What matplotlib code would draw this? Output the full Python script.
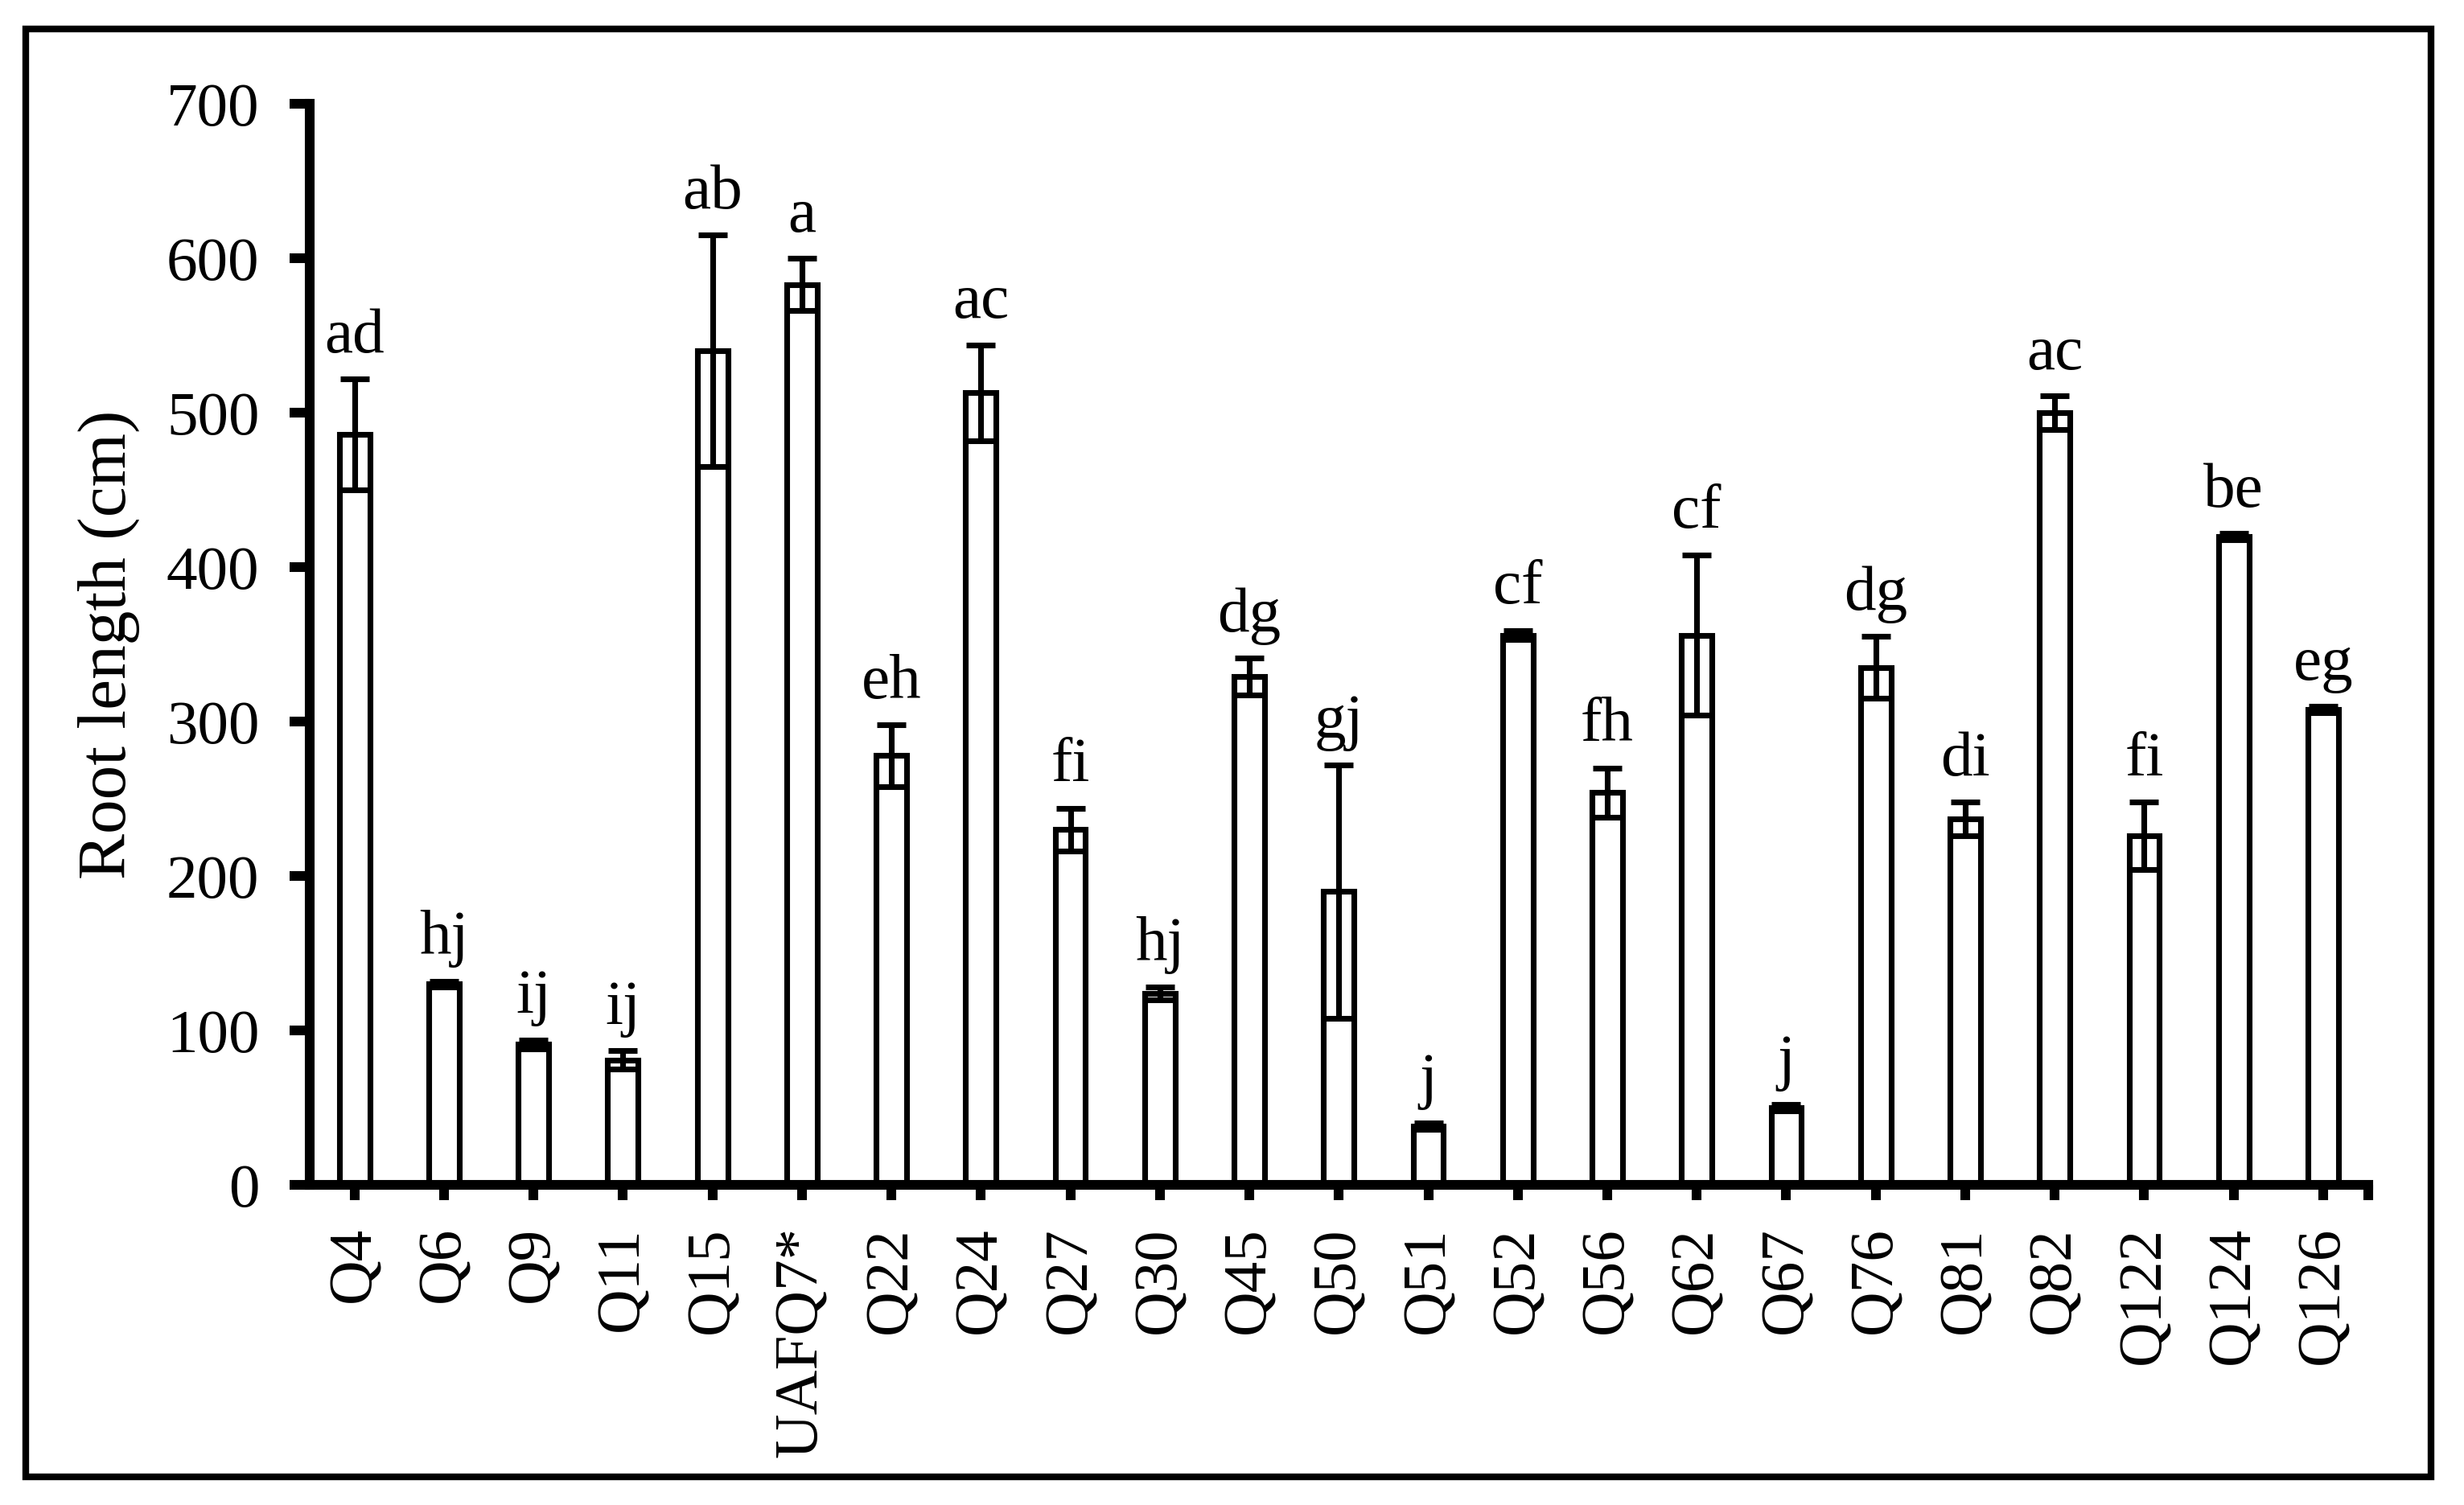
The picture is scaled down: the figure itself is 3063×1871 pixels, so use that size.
import matplotlib.pyplot as plt
from matplotlib.patches import Rectangle
import numpy as np

# Datos
aislados = ['Q4', 'Q6', 'Q9', 'Q11', 'Q15', 'UAFQ7*', 'Q22', 'Q24', 'Q27', 'Q30',
            'Q45', 'Q50', 'Q51', 'Q52', 'Q56', 'Q62', 'Q67', 'Q76', 'Q81', 'Q82',
            'Q122', 'Q124', 'Q126']
longitud = [486, 130, 91, 81, 540, 583, 278, 513, 230, 124,
            329, 190, 38, 356, 254, 356, 50, 335, 237, 500,
            226, 420, 308]
error = [36, 2, 3, 6, 75, 17, 20, 31, 14, 4,
         12, 82, 2, 3, 16, 52, 2, 20, 11, 11,
         22, 2, 2]
letras = ['ad', 'hj', 'ij', 'ij', 'ab', 'a', 'eh', 'ac', 'fi', 'hj',
          'dg', 'gj', 'j', 'cf', 'fh', 'cf', 'j', 'dg', 'di', 'ac',
          'fi', 'be', 'eg']

plt.rcParams['font.family'] = ['Liberation Serif', 'DejaVu Serif']

fig = plt.figure(figsize=(3063 / 300, 1871 / 300), dpi=300)
ax = fig.add_axes([0.1257, 0.2127, 0.8353, 0.7183])

x = np.arange(len(aislados))
ax.bar(x, longitud, width=0.34, color='white', edgecolor='black', linewidth=1.7,
       yerr=error, error_kw=dict(ecolor='black', elinewidth=1.7, capsize=4.3, capthick=1.7))

# Letras de significancia sobre las barras
for xi, v, e, t in zip(x, longitud, error, letras):
    ax.annotate(t, (xi, v + e), xytext=(0, 8), textcoords='offset points',
                ha='center', va='baseline', fontsize=19)

ax.set_xlim(-0.5, 22.5)
ax.set_ylim(0, 700)
ax.set_yticks(range(0, 701, 100))
ax.set_xticks(x)
ax.set_xticklabels(aislados, rotation=90, fontsize=18.5)
ax.set_xticks([22.5], minor=True)
ax.tick_params(axis='y', labelsize=18.5, width=2.9, length=6, pad=9)
ax.tick_params(axis='x', width=2.9, length=4.5, pad=8)
ax.tick_params(axis='x', which='minor', width=2.9, length=4.5)
ax.set_ylabel('Root length (cm)', fontsize=20.5, labelpad=8)

for s in ['top', 'right']:
    ax.spines[s].set_visible(False)
for s in ['left', 'bottom']:
    ax.spines[s].set_linewidth(2.9)
    ax.spines[s].set_capstyle('projecting')

# Marco exterior
fig.patches.append(Rectangle((0.0105, 0.0187), 0.9761, 0.9623, transform=fig.transFigure,
                             fill=False, edgecolor='black', linewidth=2))

plt.savefig('out.png', dpi=300)
